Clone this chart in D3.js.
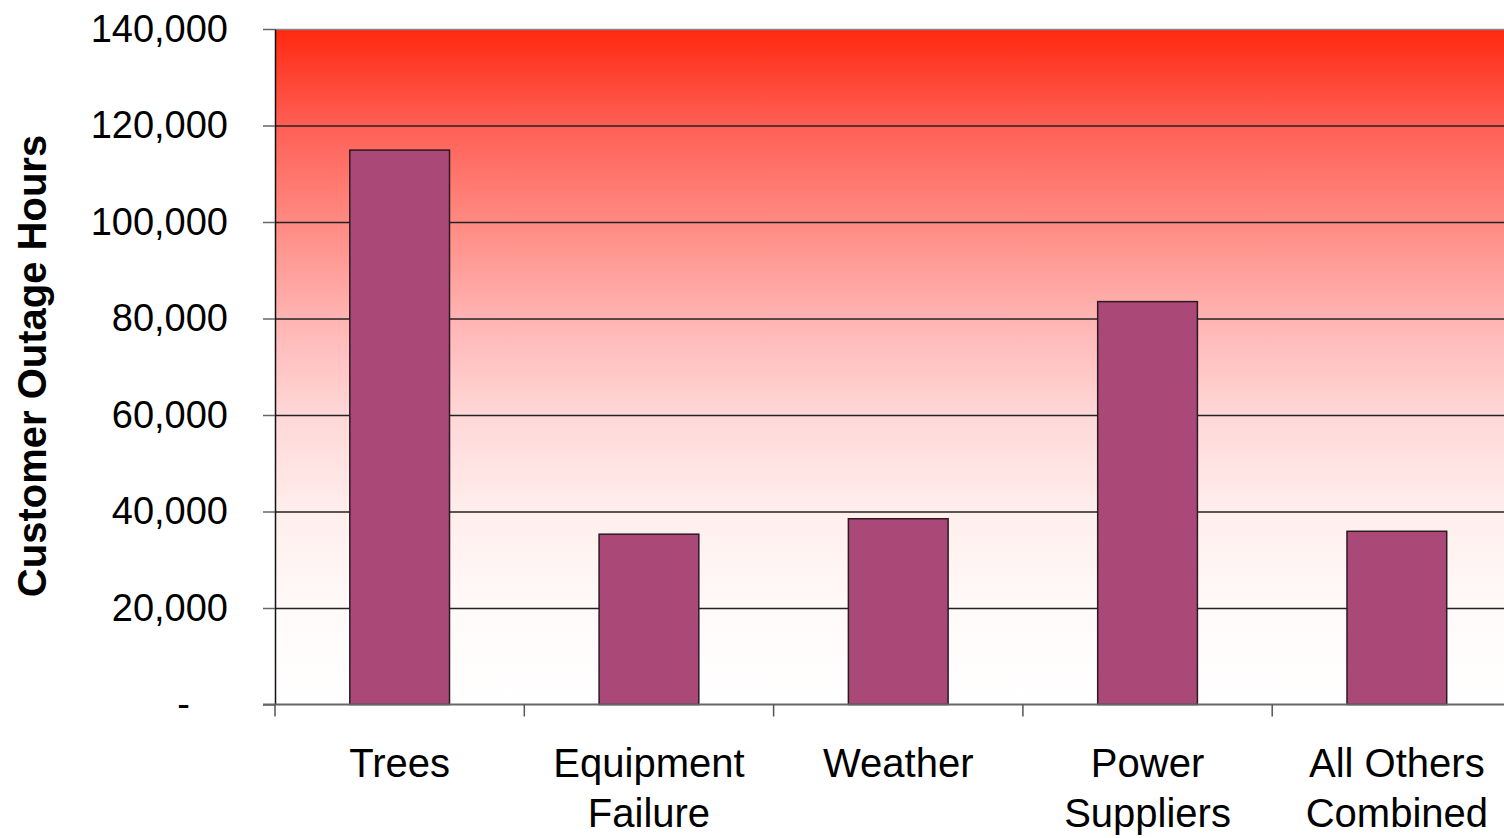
<!DOCTYPE html>
<html>
<head>
<meta charset="utf-8">
<script src="https://cdn.jsdelivr.net/npm/d3@7"></script>
<style>
  body { margin: 0; background: #fff; }
  text { font-family: "Liberation Sans", Arial, sans-serif; fill: #000; }
</style>
</head>
<body>
<div id="chart"></div>
<script>
// data
var causes = ["Trees", "Equipment Failure", "Weather", "Power Suppliers", "All Others Combined"];
var causeLines = [["Trees"], ["Equipment", "Failure"], ["Weather"], ["Power", "Suppliers"], ["All Others", "Combined"]];
var outageHours = [114900, 35300, 38500, 83500, 35900];
var yTicks = [0, 20000, 40000, 60000, 80000, 100000, 120000, 140000];

var width = 1504, height = 838;
var plot = {left: 275, top: 29, bottom: 704.5, right: 1504};

var svg = d3.select("#chart")
  .append("svg")
    .attr("width", width)
    .attr("height", height);

// red -> white background gradient
var grad = svg.append("defs").append("linearGradient")
    .attr("id", "bg")
    .attr("x1", 0).attr("y1", 0).attr("x2", 0).attr("y2", 1);
var stops = [
  [0, "rgb(255,40,15)"], [1/7, "rgb(255,95,85)"], [2/7, "rgb(255,138,130)"],
  [3/7, "rgb(255,180,178)"], [4/7, "rgb(255,215,215)"], [5/7, "rgb(255,238,236)"],
  [6/7, "rgb(255,250,249)"], [1, "rgb(255,255,255)"]
];
grad.selectAll("stop").data(stops).enter().append("stop")
  .attr("offset", function(d) { return d[0]; })
  .attr("stop-color", function(d) { return d[1]; });

var y = d3.scaleLinear()
  .domain([0, 140000])
  .range([plot.bottom, plot.top]);

var x = d3.scaleBand()
  .domain(causes)
  .range([plot.left, 1521.5])
  .paddingInner(0.6)
  .paddingOuter(0.3);

svg.append("rect")
  .attr("x", plot.left)
  .attr("y", plot.top)
  .attr("width", plot.right - plot.left)
  .attr("height", plot.bottom - plot.top)
  .attr("fill", "url(#bg)");

// gridlines
var grid = svg.append("g")
  .attr("transform", "translate(" + plot.left + ",0)")
  .call(d3.axisLeft(y).tickValues(yTicks.slice(1)).tickSize(-(plot.right - plot.left)).tickFormat(""));
grid.select(".domain").remove();
grid.selectAll(".tick line")
  .attr("stroke", function(d) { return d == 140000 ? "#888" : "#222"; })
  .attr("stroke-width", 1.5);

// y axis with ticks and labels
var fmt = d3.format(",");
var yAxis = svg.append("g")
  .attr("transform", "translate(" + plot.left + ",0)")
  .call(d3.axisLeft(y).tickValues(yTicks).tickSize(12).tickSizeOuter(0).tickPadding(35)
    .tickFormat(function(d) { return d == 0 ? "-" : fmt(d); }));
yAxis.select(".domain").attr("stroke", "#111").attr("stroke-width", 1.5);
yAxis.selectAll(".tick line").attr("stroke", "#666").attr("stroke-width", 1.5);
yAxis.selectAll(".tick text")
  .style("font-size", "38px")
  .attr("fill", "#000")
  .attr("dx", function(d) { return d == 0 ? -38 : 0; });

// bars
svg.selectAll(".bar")
  .data(causes)
  .enter()
  .append("rect")
    .attr("class", "bar")
    .attr("x", function(d) { return x(d); })
    .attr("y", function(d, i) { return y(outageHours[i]); })
    .attr("width", x.bandwidth())
    .attr("height", function(d, i) { return y(0) - y(outageHours[i]); })
    .attr("fill", "#aa4977")
    .attr("stroke", "#2a1a22")
    .attr("stroke-width", 1.5);

// x axis line and category boundary ticks
svg.append("line")
  .attr("x1", 263).attr("x2", plot.right)
  .attr("y1", y(0)).attr("y2", y(0))
  .attr("stroke", "#666").attr("stroke-width", 2);

var bounds = d3.range(causes.length + 1).map(function(i) { return x.range()[0] + i * x.step(); });
svg.selectAll(".xtick")
  .data(bounds)
  .enter()
  .append("line")
    .attr("class", "xtick")
    .attr("x1", function(d) { return d; }).attr("x2", function(d) { return d; })
    .attr("y1", y(0)).attr("y2", y(0) + 12)
    .attr("stroke", "#555").attr("stroke-width", 1.5);

// category labels
var labels = svg.selectAll(".xlabel")
  .data(causes)
  .enter()
  .append("text")
    .attr("class", "xlabel")
    .attr("text-anchor", "middle")
    .style("font-size", "40px")
    .attr("transform", function(d) { return "translate(" + (x(d) + x.bandwidth() / 2) + ",777)"; });
labels.selectAll("tspan")
  .data(function(d, i) { return causeLines[i]; })
  .enter()
  .append("tspan")
    .attr("x", 0)
    .attr("y", function(d, j) { return j * 50; })
    .text(function(d) { return d; });

// y axis title
svg.append("text")
  .attr("transform", "translate(46,366)rotate(-90)")
  .attr("text-anchor", "middle")
  .style("font-size", "40px")
  .style("font-weight", "bold")
  .text("Customer Outage Hours");
</script>
</body>
</html>
